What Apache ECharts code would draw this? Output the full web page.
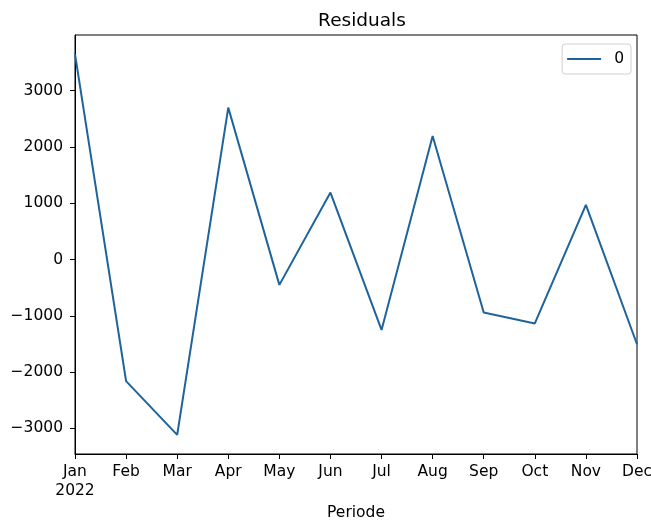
<!DOCTYPE html>
<html>
<head>
<meta charset="utf-8">
<script src="https://cdn.jsdelivr.net/npm/echarts@6/dist/echarts.min.js"></script>
<style>
  html, body { margin: 0; padding: 0; background: #fff; }
  #chart { width: 651px; height: 521px; }
</style>
</head>
<body>
<div id="chart"></div>
<script>
// Monthly periods on the x axis
const months = ['Jan\n2022', 'Feb', 'Mar', 'Apr', 'May', 'Jun', 'Jul', 'Aug', 'Sep', 'Oct', 'Nov', 'Dec'];
// Residual values, series "0"
const residuals = [3650, -2160, -3115, 2700, -450, 1190, -1250, 2195, -940, -1135, 970, -1505];
// Y tick positions
const yTicks = [-3000, -2000, -1000, 0, 1000, 2000, 3000];

const font = 'DejaVu Sans';
const chart = echarts.init(document.getElementById('chart'), null, { renderer: 'canvas' });

chart.setOption({
  animation: false,
  backgroundColor: '#ffffff',
  title: {
    text: 'Residuals',
    left: 357,
    textAlign: 'center',
    top: 7,
    textStyle: { fontFamily: font, fontSize: 18.5, fontWeight: 'normal', color: '#000' }
  },
  legend: {
    right: 20,
    top: 44,
    orient: 'vertical',
    backgroundColor: '#fff',
    borderColor: '#d0d0d0',
    borderWidth: 1,
    borderRadius: 3,
    padding: [7, 7, 7, 5],
    itemWidth: 34,
    itemHeight: 14,
    itemGap: 16,
    textStyle: { fontFamily: font, fontSize: 15.5, color: '#000', padding: [0, 0, 0, 8] },
    data: [{ name: '0', icon: 'path://M0,6 L34,6 L34,8 L0,8 Z' }]
  },
  grid: {
    left: 75,
    right: 14,
    top: 35,
    bottom: 67,
    outerBoundsMode: 'none',
    containLabel: false,
    show: true,
    borderColor: '#000',
    borderWidth: 1,
    backgroundColor: 'transparent'
  },
  xAxis: {
    type: 'category',
    data: months,
    boundaryGap: false,
    name: 'Periode',
    nameLocation: 'middle',
    nameGap: 50,
    nameTextStyle: { fontFamily: font, fontSize: 15.5, color: '#000' },
    axisLine: { show: true, onZero: false, lineStyle: { color: '#000', width: 1 } },
    axisTick: { show: true, alignWithLabel: true, length: 5, lineStyle: { color: '#000' } },
    axisLabel: { fontFamily: font, fontSize: 15.5, color: '#000', margin: 8, lineHeight: 19, interval: 0 },
    splitLine: { show: false }
  },
  yAxis: {
    type: 'value',
    min: -3455,
    max: 3990,
    axisLine: { show: true, lineStyle: { color: '#000', width: 1 } },
    axisTick: { show: true, length: 5, lineStyle: { color: '#000' }, customValues: yTicks },
    axisLabel: {
      fontFamily: font, fontSize: 15.5, color: '#000', margin: 12,
      customValues: yTicks,
      formatter: v => String(v).replace('-', '\u2212')
    },
    splitLine: { show: false }
  },
  series: [{
    name: '0',
    type: 'line',
    data: residuals,
    showSymbol: false,
    symbol: 'none',
    color: '#1f639c',
    lineStyle: { color: '#1f639c', width: 2 }
  }]
});
</script>
</body>
</html>
